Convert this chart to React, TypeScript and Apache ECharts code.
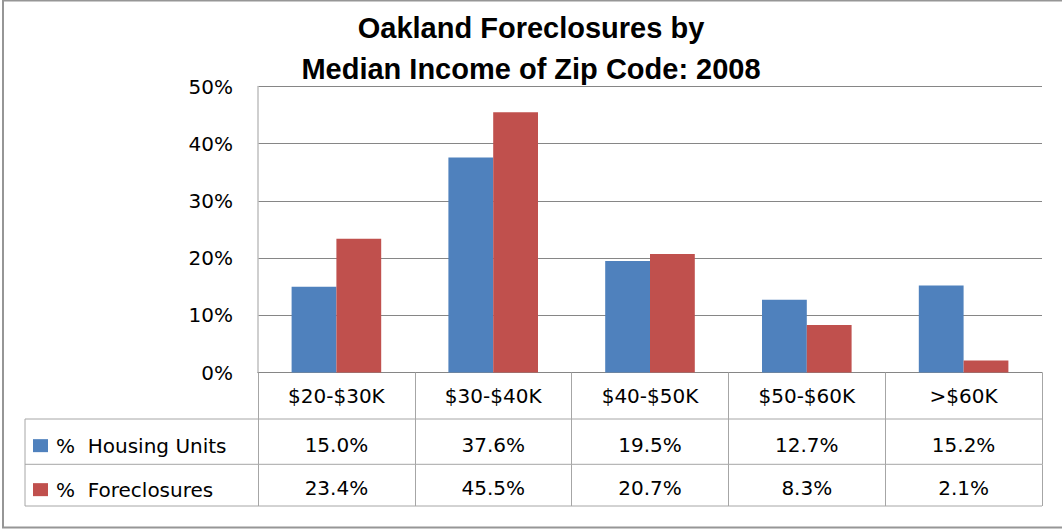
import React, { useEffect, useRef } from "react";
import * as echarts from "echarts";

const TITLE_LINES = ["Oakland Foreclosures by", "Median Income of Zip Code: 2008"];
const CATEGORIES = ["$20-$30K", "$30-$40K", "$40-$50K", "$50-$60K", ">$60K"];
const SERIES_NAMES = ["% Housing Units", "% Foreclosures"];
const HOUSING_UNITS = [15.0, 37.6, 19.5, 12.7, 15.2];
const FORECLOSURES = [23.4, 45.5, 20.7, 8.3, 2.1];
const Y_MIN = 0;
const Y_MAX = 50;
const Y_STEP = 10;

const COLORS = ["#4F81BD", "#C0504D"];
const FONT = "DejaVu Sans";
const TABLE_LINE = "#a6a6a6";

// layout (pixels)
const W = 1062;
const H = 529;
const GRID_L = 258;
const GRID_R = 1042;
const GRID_T = 86.5;
const GRID_B = 372.5;
const ROW1 = 419;
const ROW2 = 464.3;
const ROW3 = 506;
const TABLE_L = 25;

const fmt = (v: number) => `${v.toFixed(1)}%`;

export default function App() {
  const ref = useRef<HTMLDivElement>(null);
  useEffect(() => {
    if (!ref.current) return;
    const chart = echarts.init(ref.current, null, { renderer: "svg" });
    const labelBase = { fontFamily: FONT, fontSize: 20, color: "#000" };
    const tableAxis = (data: string[], offset: number, margin: number, tickLen: number) => ({
      type: "category",
      data,
      position: "bottom",
      offset,
      axisLine: { show: false },
      axisTick: { show: true, length: tickLen, lineStyle: { color: TABLE_LINE, width: 1 } },
      axisLabel: { ...labelBase, margin, verticalAlign: "middle", interval: 0 },
      splitLine: { show: false },
    });
    chart.setOption({
      animation: false,
      backgroundColor: "#fff",
      title: {
        text: TITLE_LINES.join("\n"),
        left: "center",
        top: 7,
        padding: 0,
        textStyle: {
          fontFamily: "Liberation Sans",
          fontWeight: "bold",
          fontSize: 29,
          lineHeight: 41,
          color: "#000",
        },
      },
      legend: {
        orient: "vertical",
        left: 33,
        top: ROW1 + (ROW2 - ROW1) / 2 - 6.5 - 3.5 + 4,
        padding: 0,
        itemWidth: 15,
        itemHeight: 13,
        itemGap: 24,
        icon: "rect",
        selectedMode: false,
        formatter: (name: string) => name.replace("% ", "%  "),
        textStyle: { ...labelBase, lineHeight: 20, padding: [0, 0, 0, 3] },
        data: SERIES_NAMES,
      },
      grid: {
        left: GRID_L,
        right: W - GRID_R,
        top: GRID_T,
        bottom: H - GRID_B,
        outerBoundsMode: "none",
        containLabel: false,
      },
      xAxis: [
        {
          type: "category",
          data: CATEGORIES,
          position: "bottom",
          axisLine: { show: true, lineStyle: { color: "#868686", width: 1 } },
          axisTick: { show: true, length: ROW1 - GRID_B, lineStyle: { color: TABLE_LINE, width: 1 } },
          axisLabel: { ...labelBase, margin: 23, verticalAlign: "middle", interval: 0 },
          splitLine: { show: false },
        },
        tableAxis(HOUSING_UNITS.map(fmt), ROW1 - GRID_B, 26, ROW2 - ROW1),
        tableAxis(FORECLOSURES.map(fmt), ROW2 - GRID_B, 24, ROW3 - ROW2),
      ],
      yAxis: {
        type: "value",
        min: Y_MIN,
        max: Y_MAX,
        interval: Y_STEP,
        axisLine: { show: true, lineStyle: { color: "#bfbfbf", width: 1.5 } },
        axisTick: { show: false },
        axisLabel: { ...labelBase, margin: 25, formatter: "{value}%" },
        splitLine: { show: true, lineStyle: { color: "#868686", width: 1 } },
      },
      series: [
        {
          name: SERIES_NAMES[0],
          type: "bar",
          xAxisIndex: 0,
          data: HOUSING_UNITS,
          itemStyle: { color: COLORS[0] },
          barGap: "0%",
          barCategoryGap: "42.86%",
        },
        {
          name: SERIES_NAMES[1],
          type: "bar",
          xAxisIndex: 0,
          data: FORECLOSURES,
          itemStyle: { color: COLORS[1] },
          barGap: "0%",
          barCategoryGap: "42.86%",
        },
      ],
      graphic: [
        {
          type: "rect",
          shape: { x: 3, y: 0.5, width: W + 20, height: 527 },
          style: { fill: "none", stroke: "#969696", lineWidth: 2 },
          silent: true,
        },
        ...[ROW1, ROW2, ROW3].map((y) => ({
          type: "line",
          shape: { x1: TABLE_L, y1: y, x2: GRID_R, y2: y },
          style: { stroke: TABLE_LINE, lineWidth: 1 },
          silent: true,
        })),
        {
          type: "line",
          shape: { x1: TABLE_L, y1: ROW1, x2: TABLE_L, y2: ROW3 },
          style: { stroke: TABLE_LINE, lineWidth: 1 },
          silent: true,
        },
      ],
    });
    return () => chart.dispose();
  }, []);
  return (
    <div
      ref={ref}
      style={{ position: "fixed", left: 0, top: 0, width: W, height: H, background: "#fff" }}
    />
  );
}
